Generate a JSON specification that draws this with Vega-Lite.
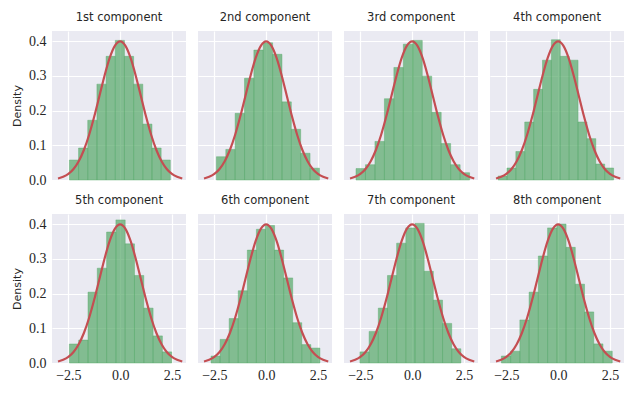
{
  "$schema": "https://vega.github.io/schema/vega-lite/v6.json",
  "padding": {"left": 11, "top": 11, "right": 5, "bottom": 5},
  "background": "white",
  "data": {"values": [
    {"k":"b","cs":["1st component"],"x0":-2.45,"x1":-2.007,"d":0.0575},
    {"k":"b","cs":["1st component"],"x0":-2.007,"x1":-1.564,"d":0.092},
    {"k":"b","cs":["1st component"],"x0":-1.564,"x1":-1.121,"d":0.172},
    {"k":"b","cs":["1st component"],"x0":-1.121,"x1":-0.678,"d":0.276},
    {"k":"b","cs":["1st component"],"x0":-0.678,"x1":-0.235,"d":0.356},
    {"k":"b","cs":["1st component"],"x0":-0.235,"x1":0.208,"d":0.402},
    {"k":"b","cs":["1st component"],"x0":0.208,"x1":0.651,"d":0.356},
    {"k":"b","cs":["1st component"],"x0":0.651,"x1":1.094,"d":0.276},
    {"k":"b","cs":["1st component"],"x0":1.094,"x1":1.537,"d":0.161},
    {"k":"b","cs":["1st component"],"x0":1.537,"x1":1.98,"d":0.092},
    {"k":"b","cs":["1st component"],"x0":1.98,"x1":2.423,"d":0.0575},
    {"k":"b","cs":["2nd component"],"x0":-2.4,"x1":-1.948,"d":0.067},
    {"k":"b","cs":["2nd component"],"x0":-1.948,"x1":-1.496,"d":0.088},
    {"k":"b","cs":["2nd component"],"x0":-1.496,"x1":-1.044,"d":0.192},
    {"k":"b","cs":["2nd component"],"x0":-1.044,"x1":-0.592,"d":0.293},
    {"k":"b","cs":["2nd component"],"x0":-0.592,"x1":-0.14,"d":0.374},
    {"k":"b","cs":["2nd component"],"x0":-0.14,"x1":0.312,"d":0.395},
    {"k":"b","cs":["2nd component"],"x0":0.312,"x1":0.764,"d":0.362},
    {"k":"b","cs":["2nd component"],"x0":0.764,"x1":1.216,"d":0.225},
    {"k":"b","cs":["2nd component"],"x0":1.216,"x1":1.668,"d":0.146},
    {"k":"b","cs":["2nd component"],"x0":1.668,"x1":2.12,"d":0.077},
    {"k":"b","cs":["2nd component"],"x0":2.12,"x1":2.572,"d":0.034},
    {"k":"b","cs":["3rd component"],"x0":-2.71,"x1":-2.253,"d":0.033},
    {"k":"b","cs":["3rd component"],"x0":-2.253,"x1":-1.796,"d":0.044},
    {"k":"b","cs":["3rd component"],"x0":-1.796,"x1":-1.339,"d":0.111},
    {"k":"b","cs":["3rd component"],"x0":-1.339,"x1":-0.882,"d":0.234},
    {"k":"b","cs":["3rd component"],"x0":-0.882,"x1":-0.425,"d":0.324},
    {"k":"b","cs":["3rd component"],"x0":-0.425,"x1":0.032,"d":0.391},
    {"k":"b","cs":["3rd component"],"x0":0.032,"x1":0.489,"d":0.402},
    {"k":"b","cs":["3rd component"],"x0":0.489,"x1":0.946,"d":0.299},
    {"k":"b","cs":["3rd component"],"x0":0.946,"x1":1.403,"d":0.195},
    {"k":"b","cs":["3rd component"],"x0":1.403,"x1":1.86,"d":0.105},
    {"k":"b","cs":["3rd component"],"x0":1.86,"x1":2.317,"d":0.044},
    {"k":"b","cs":["3rd component"],"x0":2.317,"x1":2.774,"d":0.021},
    {"k":"b","cs":["4th component"],"x0":-2.9,"x1":-2.471,"d":0.0115},
    {"k":"b","cs":["4th component"],"x0":-2.471,"x1":-2.042,"d":0.0345},
    {"k":"b","cs":["4th component"],"x0":-2.042,"x1":-1.613,"d":0.082},
    {"k":"b","cs":["4th component"],"x0":-1.613,"x1":-1.184,"d":0.167},
    {"k":"b","cs":["4th component"],"x0":-1.184,"x1":-0.755,"d":0.261},
    {"k":"b","cs":["4th component"],"x0":-0.755,"x1":-0.326,"d":0.345},
    {"k":"b","cs":["4th component"],"x0":-0.326,"x1":0.103,"d":0.404},
    {"k":"b","cs":["4th component"],"x0":0.103,"x1":0.532,"d":0.356},
    {"k":"b","cs":["4th component"],"x0":0.532,"x1":0.961,"d":0.345},
    {"k":"b","cs":["4th component"],"x0":0.961,"x1":1.39,"d":0.167},
    {"k":"b","cs":["4th component"],"x0":1.39,"x1":1.819,"d":0.119},
    {"k":"b","cs":["4th component"],"x0":1.819,"x1":2.248,"d":0.046},
    {"k":"b","cs":["4th component"],"x0":2.248,"x1":2.677,"d":0.0345},
    {"k":"b","cs":["5th component"],"x0":-2.45,"x1":-2.001,"d":0.0547},
    {"k":"b","cs":["5th component"],"x0":-2.001,"x1":-1.552,"d":0.066},
    {"k":"b","cs":["5th component"],"x0":-1.552,"x1":-1.103,"d":0.204},
    {"k":"b","cs":["5th component"],"x0":-1.103,"x1":-0.654,"d":0.273},
    {"k":"b","cs":["5th component"],"x0":-0.654,"x1":-0.205,"d":0.377},
    {"k":"b","cs":["5th component"],"x0":-0.205,"x1":0.244,"d":0.412},
    {"k":"b","cs":["5th component"],"x0":0.244,"x1":0.693,"d":0.343},
    {"k":"b","cs":["5th component"],"x0":0.693,"x1":1.142,"d":0.252},
    {"k":"b","cs":["5th component"],"x0":1.142,"x1":1.591,"d":0.158},
    {"k":"b","cs":["5th component"],"x0":1.591,"x1":2.04,"d":0.078},
    {"k":"b","cs":["5th component"],"x0":2.04,"x1":2.489,"d":0.032},
    {"k":"b","cs":["6th component"],"x0":-2.66,"x1":-2.222,"d":0.02},
    {"k":"b","cs":["6th component"],"x0":-2.222,"x1":-1.784,"d":0.068},
    {"k":"b","cs":["6th component"],"x0":-1.784,"x1":-1.346,"d":0.128},
    {"k":"b","cs":["6th component"],"x0":-1.346,"x1":-0.908,"d":0.208},
    {"k":"b","cs":["6th component"],"x0":-0.908,"x1":-0.47,"d":0.325},
    {"k":"b","cs":["6th component"],"x0":-0.47,"x1":-0.032,"d":0.385},
    {"k":"b","cs":["6th component"],"x0":-0.032,"x1":0.406,"d":0.396},
    {"k":"b","cs":["6th component"],"x0":0.406,"x1":0.844,"d":0.325},
    {"k":"b","cs":["6th component"],"x0":0.844,"x1":1.282,"d":0.245},
    {"k":"b","cs":["6th component"],"x0":1.282,"x1":1.72,"d":0.116},
    {"k":"b","cs":["6th component"],"x0":1.72,"x1":2.158,"d":0.053},
    {"k":"b","cs":["6th component"],"x0":2.158,"x1":2.596,"d":0.043},
    {"k":"b","cs":["7th component"],"x0":-2.52,"x1":-2.077,"d":0.032},
    {"k":"b","cs":["7th component"],"x0":-2.077,"x1":-1.634,"d":0.091},
    {"k":"b","cs":["7th component"],"x0":-1.634,"x1":-1.191,"d":0.158},
    {"k":"b","cs":["7th component"],"x0":-1.191,"x1":-0.748,"d":0.252},
    {"k":"b","cs":["7th component"],"x0":-0.748,"x1":-0.305,"d":0.345},
    {"k":"b","cs":["7th component"],"x0":-0.305,"x1":0.138,"d":0.389},
    {"k":"b","cs":["7th component"],"x0":0.138,"x1":0.581,"d":0.402},
    {"k":"b","cs":["7th component"],"x0":0.581,"x1":1.024,"d":0.264},
    {"k":"b","cs":["7th component"],"x0":1.024,"x1":1.467,"d":0.181},
    {"k":"b","cs":["7th component"],"x0":1.467,"x1":1.91,"d":0.114},
    {"k":"b","cs":["7th component"],"x0":1.91,"x1":2.353,"d":0.041},
    {"k":"b","cs":["8th component"],"x0":-2.74,"x1":-2.294,"d":0.02},
    {"k":"b","cs":["8th component"],"x0":-2.294,"x1":-1.848,"d":0.034},
    {"k":"b","cs":["8th component"],"x0":-1.848,"x1":-1.402,"d":0.124},
    {"k":"b","cs":["8th component"],"x0":-1.402,"x1":-0.956,"d":0.204},
    {"k":"b","cs":["8th component"],"x0":-0.956,"x1":-0.51,"d":0.308},
    {"k":"b","cs":["8th component"],"x0":-0.51,"x1":-0.064,"d":0.389},
    {"k":"b","cs":["8th component"],"x0":-0.064,"x1":0.382,"d":0.4},
    {"k":"b","cs":["8th component"],"x0":0.382,"x1":0.828,"d":0.333},
    {"k":"b","cs":["8th component"],"x0":0.828,"x1":1.274,"d":0.227},
    {"k":"b","cs":["8th component"],"x0":1.274,"x1":1.72,"d":0.147},
    {"k":"b","cs":["8th component"],"x0":1.72,"x1":2.166,"d":0.055},
    {"k":"b","cs":["8th component"],"x0":2.166,"x1":2.612,"d":0.034},
    {"k":"c","x":-3,"p":0.0044,"cs":["1st component","2nd component","3rd component","4th component","5th component","6th component","7th component","8th component"]},
    {"k":"c","x":-2.75,"p":0.0091,"cs":["1st component","2nd component","3rd component","4th component","5th component","6th component","7th component","8th component"]},
    {"k":"c","x":-2.5,"p":0.0175,"cs":["1st component","2nd component","3rd component","4th component","5th component","6th component","7th component","8th component"]},
    {"k":"c","x":-2.25,"p":0.0317,"cs":["1st component","2nd component","3rd component","4th component","5th component","6th component","7th component","8th component"]},
    {"k":"c","x":-2,"p":0.054,"cs":["1st component","2nd component","3rd component","4th component","5th component","6th component","7th component","8th component"]},
    {"k":"c","x":-1.75,"p":0.0863,"cs":["1st component","2nd component","3rd component","4th component","5th component","6th component","7th component","8th component"]},
    {"k":"c","x":-1.5,"p":0.1295,"cs":["1st component","2nd component","3rd component","4th component","5th component","6th component","7th component","8th component"]},
    {"k":"c","x":-1.25,"p":0.1826,"cs":["1st component","2nd component","3rd component","4th component","5th component","6th component","7th component","8th component"]},
    {"k":"c","x":-1,"p":0.242,"cs":["1st component","2nd component","3rd component","4th component","5th component","6th component","7th component","8th component"]},
    {"k":"c","x":-0.75,"p":0.3011,"cs":["1st component","2nd component","3rd component","4th component","5th component","6th component","7th component","8th component"]},
    {"k":"c","x":-0.5,"p":0.3521,"cs":["1st component","2nd component","3rd component","4th component","5th component","6th component","7th component","8th component"]},
    {"k":"c","x":-0.25,"p":0.3867,"cs":["1st component","2nd component","3rd component","4th component","5th component","6th component","7th component","8th component"]},
    {"k":"c","x":0,"p":0.3989,"cs":["1st component","2nd component","3rd component","4th component","5th component","6th component","7th component","8th component"]},
    {"k":"c","x":0.25,"p":0.3867,"cs":["1st component","2nd component","3rd component","4th component","5th component","6th component","7th component","8th component"]},
    {"k":"c","x":0.5,"p":0.3521,"cs":["1st component","2nd component","3rd component","4th component","5th component","6th component","7th component","8th component"]},
    {"k":"c","x":0.75,"p":0.3011,"cs":["1st component","2nd component","3rd component","4th component","5th component","6th component","7th component","8th component"]},
    {"k":"c","x":1,"p":0.242,"cs":["1st component","2nd component","3rd component","4th component","5th component","6th component","7th component","8th component"]},
    {"k":"c","x":1.25,"p":0.1826,"cs":["1st component","2nd component","3rd component","4th component","5th component","6th component","7th component","8th component"]},
    {"k":"c","x":1.5,"p":0.1295,"cs":["1st component","2nd component","3rd component","4th component","5th component","6th component","7th component","8th component"]},
    {"k":"c","x":1.75,"p":0.0863,"cs":["1st component","2nd component","3rd component","4th component","5th component","6th component","7th component","8th component"]},
    {"k":"c","x":2,"p":0.054,"cs":["1st component","2nd component","3rd component","4th component","5th component","6th component","7th component","8th component"]},
    {"k":"c","x":2.25,"p":0.0317,"cs":["1st component","2nd component","3rd component","4th component","5th component","6th component","7th component","8th component"]},
    {"k":"c","x":2.5,"p":0.0175,"cs":["1st component","2nd component","3rd component","4th component","5th component","6th component","7th component","8th component"]},
    {"k":"c","x":2.75,"p":0.0091,"cs":["1st component","2nd component","3rd component","4th component","5th component","6th component","7th component","8th component"]},
    {"k":"c","x":3,"p":0.0044,"cs":["1st component","2nd component","3rd component","4th component","5th component","6th component","7th component","8th component"]}
  ]},
  "transform": [
    {"flatten": ["cs"], "as": ["c"]}
  ],
  "facet": {
    "field": "c",
    "type": "nominal",
    "header": {"title": null, "labelFont": "DejaVu Sans", "labelFontSize": 11.5, "labelFontWeight": "normal", "labelColor": "#262626", "labelPadding": 8}
  },
  "columns": 4,
  "spacing": {"column": 11, "row": 11},
  "spec": {
    "width": 134,
    "height": 149,
    "layer": [
      {
        "transform": [{"filter": {"field": "k", "equal": "b"}}],
        "mark": {"type": "rect", "fill": "#55A868", "fillOpacity": 0.7, "stroke": "#55A868", "strokeOpacity": 0.6, "strokeWidth": 0.7},
        "encoding": {
          "x": {"field": "x0", "type": "quantitative", "scale": {"domain": [-3.29, 3.18], "nice": false, "zero": false},
                "axis": {"title": null, "values": [-2.5, 0, 2.5], "format": ".1f", "labelPadding": 2, "labelFont": "Liberation Serif", "labelFontSize": 14, "labelOverlap": false}},
          "x2": {"field": "x1"},
          "y": {"field": "d", "type": "quantitative", "scale": {"domain": [0, 0.429], "nice": false},
                "axis": {"title": "Density", "values": [0, 0.1, 0.2, 0.3, 0.4], "format": ".1f", "labelPadding": 6, "labelFont": "Liberation Serif", "labelFontSize": 14, "labelOverlap": false}}
        }
      },
      {
        "transform": [{"filter": {"field": "k", "equal": "c"}}],
        "mark": {"type": "line", "color": "#C44E52", "strokeWidth": 2.2, "interpolate": "monotone"},
        "encoding": {
          "x": {"field": "x", "type": "quantitative",
                "axis": {"title": null, "values": [-2.5, 0, 2.5], "format": ".1f", "labelPadding": 2, "labelFont": "Liberation Serif", "labelFontSize": 14, "labelOverlap": false}},
          "y": {"field": "p", "type": "quantitative",
                "axis": {"title": "Density", "values": [0, 0.1, 0.2, 0.3, 0.4], "format": ".1f", "labelPadding": 6, "labelFont": "Liberation Serif", "labelFontSize": 14, "labelOverlap": false}}
        }
      }
    ]
  },
  "config": {
    "view": {"fill": "#EAEAF2", "stroke": null},
    "axis": {
      "domain": false, "ticks": false, "gridColor": "#FFFFFF", "gridWidth": 1.2, "gridOpacity": 1, "labelOverlap": false,
      "labelFont": "Liberation Serif", "labelFontSize": 14, "labelColor": "#262626",
      "titleFont": "DejaVu Sans", "titleFontSize": 11, "titleFontWeight": "normal", "titleColor": "#262626", "titlePadding": 6
    }
  }
}
